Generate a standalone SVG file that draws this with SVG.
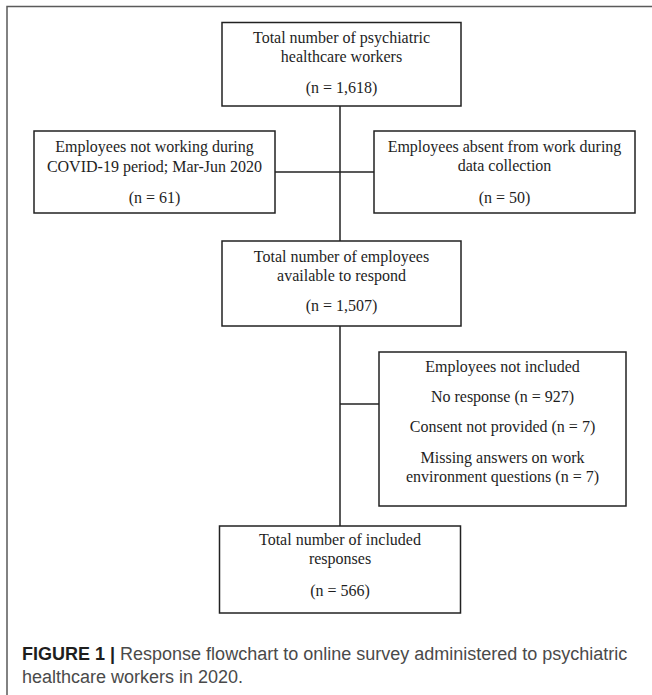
<svg xmlns="http://www.w3.org/2000/svg" width="652" height="695" viewBox="0 0 652 695">
<style>
.bg{fill:#ffffff}
.frame{fill:none;stroke:#5a5a5a;stroke-width:1.5}
.box{fill:#ffffff;stroke:#222222;stroke-width:1.5}
.con{fill:none;stroke:#222222;stroke-width:1.5}
.t{font-family:"Liberation Serif","Times New Roman",serif;font-size:16px;fill:#1e1e1e;text-anchor:middle}
.cap{font-family:"Liberation Sans",Arial,sans-serif;font-size:18px;fill:#4a4a4a}
.capb{font-weight:bold;fill:#1e1e1e}
</style>
<rect class="bg" x="0" y="0" width="652" height="695"/>
<path class="frame" d="M7,695 V6.5 H652"/>
<g id="connectors">
<line class="con" x1="340" y1="106" x2="340" y2="241"/>
<line class="con" x1="275" y1="172" x2="374" y2="172"/>
<line class="con" x1="340" y1="326" x2="340" y2="526"/>
<line class="con" x1="340" y1="404" x2="379" y2="404"/>
</g>
<g id="total-workers">
<rect class="box" x="222" y="22.5" width="239" height="83.5"/>
<text class="t" x="341.5" y="43">Total number of psychiatric</text>
<text class="t" x="341.5" y="62">healthcare workers</text>
<text class="t" x="341.5" y="93">(n = 1,618)</text>
</g>
<g id="not-working">
<rect class="box" x="34" y="131" width="241" height="82"/>
<text class="t" x="154.5" y="152">Employees not working during</text>
<text class="t" x="154.5" y="172">COVID-19 period; Mar-Jun 2020</text>
<text class="t" x="154.5" y="203">(n = 61)</text>
</g>
<g id="absent">
<rect class="box" x="374" y="131" width="261" height="82"/>
<text class="t" x="504.5" y="152">Employees absent from work during</text>
<text class="t" x="504.5" y="171">data collection</text>
<text class="t" x="504.5" y="203">(n = 50)</text>
</g>
<g id="available">
<rect class="box" x="222" y="241" width="239" height="85"/>
<text class="t" x="341.5" y="262">Total number of employees</text>
<text class="t" x="341.5" y="281">available to respond</text>
<text class="t" x="341.5" y="311">(n = 1,507)</text>
</g>
<g id="not-included">
<rect class="box" x="379" y="352" width="247" height="154"/>
<text class="t" x="502.5" y="372">Employees not included</text>
<text class="t" x="502.5" y="402">No response (n = 927)</text>
<text class="t" x="502.5" y="432">Consent not provided (n = 7)</text>
<text class="t" x="502.5" y="463">Missing answers on work</text>
<text class="t" x="502.5" y="482">environment questions (n = 7)</text>
</g>
<g id="included">
<rect class="box" x="219.5" y="526" width="241" height="87"/>
<text class="t" x="340" y="545">Total number of included</text>
<text class="t" x="340" y="564">responses</text>
<text class="t" x="340" y="596">(n = 566)</text>
</g>
<text class="cap" x="22" y="660"><tspan class="capb">FIGURE 1 | </tspan>Response flowchart to online survey administered to psychiatric</text>
<text class="cap" x="22" y="683">healthcare workers in 2020.</text>
</svg>
